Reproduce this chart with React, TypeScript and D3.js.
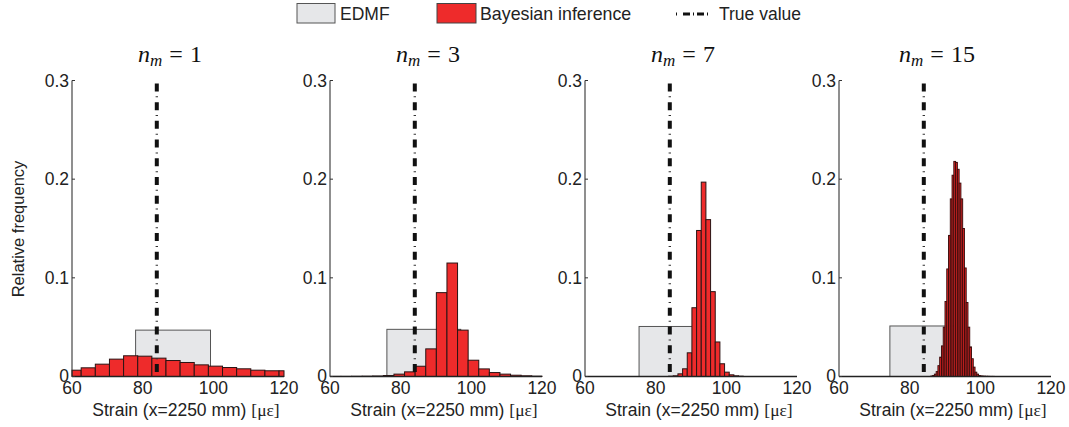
import React from "react";
import * as d3 from "d3";

// ---------- data ----------
const panelLabels = ["1", "3", "7", "15"];
const xTicks = [60, 80, 100, 120];
const yTicks = [0, 0.1, 0.2, 0.3];
const yTickLabels = ["0", "0.1", "0.2", "0.3"];
const trueValue = 84;

// EDMF uniform boxes (lower bound, upper bound, height) per panel
const edmfLo = [78, 76.1, 75.3, 74.4];
const edmfHi = [99.2, 97.0, 95.0, 93.9];
const edmfHeight = [0.047, 0.0478, 0.0507, 0.0512];

// Bayesian histograms: first bin edge, bin width, values per panel
const bayesStart = [58.6, 60.1, 83.66, 86.0];
const bayesWidth = [4, 3, 1.32, 0.5];
const bayes1 = [0.0064, 0.0088, 0.0125, 0.0176, 0.021, 0.0206, 0.0186, 0.0162, 0.0142, 0.0118, 0.0105, 0.0091, 0.0078, 0.0064, 0.0058, 0.0058];
const bayes3 = [0.0001, 0.0001, 0.0002, 0.0003, 0.0005, 0.001, 0.0024, 0.0047, 0.0104, 0.028, 0.085, 0.115, 0.047, 0.0165, 0.0077, 0.004, 0.0024, 0.0013, 0.0007, 0.0003];
const bayes7 = [0.0003, 0.0007, 0.0027, 0.0078, 0.024, 0.0697, 0.148, 0.197, 0.159, 0.086, 0.035, 0.0129, 0.0044, 0.0017, 0.0007, 0.0003];
const bayes15 = [0.0005, 0.001, 0.0024, 0.005, 0.011, 0.0196, 0.031, 0.05, 0.076, 0.109, 0.143, 0.18, 0.204, 0.218, 0.217, 0.21, 0.196, 0.18, 0.15, 0.11, 0.075, 0.05, 0.03, 0.018, 0.0095, 0.0044, 0.0024, 0.001, 0.0006, 0.0004, 0.0003, 0.0002, 0.0002, 0.0001, 0.0001, 0.0001];
const bayesValues = [bayes1, bayes3, bayes7, bayes15];

// ---------- layout ----------
const W = 1069;
const H = 427;
const panelX0 = [72, 330, 585, 839];
const panelW = 212;
const yBottom = 376.5;
const yTop = 80.5;
const SANS = "'Liberation Sans', Arial, Helvetica, sans-serif";
const SERIF = "'Liberation Serif', 'Times New Roman', serif";
const RED = "#ee2b2b";
const GRAY = "#e6e7e9";

function TrueLine({ x, y1, y2 }: { x: number; y1: number; y2: number }) {
  return (
    <g>
      <line x1={x} x2={x} y1={y1} y2={y2} stroke="#111" strokeWidth={4} strokeDasharray="8 10.7" />
      <line x1={x} x2={x} y1={y1} y2={y2} stroke="#333" strokeWidth={2.4} strokeDasharray="1 17.7" strokeDashoffset={-12.9} />
    </g>
  );
}

function Panel({ idx }: { idx: number }) {
  const x0 = panelX0[idx];
  const x = d3.scaleLinear().domain([60, 120]).range([x0, x0 + panelW]);
  const y = d3.scaleLinear().domain([0, 0.3]).range([yBottom, yTop]);
  const vals = bayesValues[idx];
  const start = bayesStart[idx];
  const bw = bayesWidth[idx];
  const narrow = idx === 3;
  const bars = vals.map((v, i) => {
    const lo = Math.max(60, start + i * bw);
    const hi = Math.min(120, start + (i + 1) * bw);
    return { lo, hi, v };
  }).filter((b) => b.hi > b.lo);
  const cx = x0 + panelW / 2;
  return (
    <g>
      {/* title */}
      <text x={cx - 8} y={62} fontFamily={SERIF} fontSize={24} textAnchor="middle" fill="#111">
        <tspan fontStyle="italic">n</tspan>
        <tspan fontStyle="italic" fontSize={17} dy={4}>m</tspan>
        <tspan dy={-4} dx={7}>=</tspan>
        <tspan dx={7}>{panelLabels[idx]}</tspan>
      </text>
      {/* EDMF */}
      <rect
        x={x(edmfLo[idx])}
        y={y(edmfHeight[idx])}
        width={x(edmfHi[idx]) - x(edmfLo[idx])}
        height={y(0) - y(edmfHeight[idx])}
        fill={GRAY}
        stroke="#555"
        strokeWidth={1}
      />
      {/* Bayesian */}
      {bars.map((b, i) => (
        <rect
          key={i}
          x={x(b.lo)}
          y={y(b.v)}
          width={x(b.hi) - x(b.lo)}
          height={y(0) - y(b.v)}
          fill={narrow ? "#e02626" : RED}
          stroke={narrow ? "#3a0c0c" : "#2a1414"}
          strokeWidth={narrow ? 0.95 : 1}
        />
      ))}
      {/* true value */}
      <TrueLine x={x(trueValue)} y1={y(0.297)} y2={y(0)} />
      {/* axes */}
      <line x1={x0} x2={x0} y1={y(0)} y2={y(0.3)} stroke="#333" strokeWidth={1.1} />
      <line x1={x0} x2={x0 + panelW} y1={y(0)} y2={y(0)} stroke="#222" strokeWidth={1.3} />
      {yTicks.map((t, i) => (
        <g key={"y" + i}>
          <line x1={x0} x2={x0 + 3} y1={y(t)} y2={y(t)} stroke="#333" strokeWidth={1} />
          <text x={x0 - 3} y={y(t) - (t === 0 ? 1 : 0)} dy="0.36em" textAnchor="end" fontFamily={SANS} fontSize={17.5} fill="#222">
            {yTickLabels[i]}
          </text>
        </g>
      ))}
      {xTicks.map((t, i) => (
        <text key={"x" + i} x={x(t)} y={394} textAnchor="middle" fontFamily={SANS} fontSize={17.5} fill="#222">
          {t}
        </text>
      ))}
      <text x={cx + 8} y={416} textAnchor="middle" fontFamily={SANS} fontSize={17.5} fill="#222">
        {"Strain (x=2250 mm) "}
        <tspan fontFamily={SERIF}>[με]</tspan>
      </text>
    </g>
  );
}

export default function App() {
  return (
    <svg width={W} height={H} style={{ display: "block", position: "absolute", left: 0, top: 0, background: "#fff" }}>
      <rect x={0} y={0} width={W} height={H} fill="#fff" />
      {/* legend */}
      <rect x={297} y={3.5} width={38} height={19.5} fill={GRAY} stroke="#555" strokeWidth={1} />
      <text x={340} y={20} fontFamily={SANS} fontSize={17.5} fill="#222">EDMF</text>
      <rect x={437} y={3.5} width={39} height={19.5} fill={RED} stroke="#444" strokeWidth={1} />
      <text x={480} y={20} fontFamily={SANS} fontSize={17.8} fill="#222">Bayesian inference</text>
      <line x1={676} x2={715} y1={14} y2={14} stroke="#111" strokeWidth={3} strokeDasharray="1 6 7 3 1 3 7 3 1 20" />
      <text x={719} y={20} fontFamily={SANS} fontSize={17.5} fill="#222">True value</text>
      {/* y label */}
      <text transform="translate(24,229) rotate(-90)" textAnchor="middle" fontFamily={SANS} fontSize={16.5} fill="#222">
        Relative frequency
      </text>
      {panelLabels.map((_, i) => (
        <Panel key={i} idx={i} />
      ))}
    </svg>
  );
}
